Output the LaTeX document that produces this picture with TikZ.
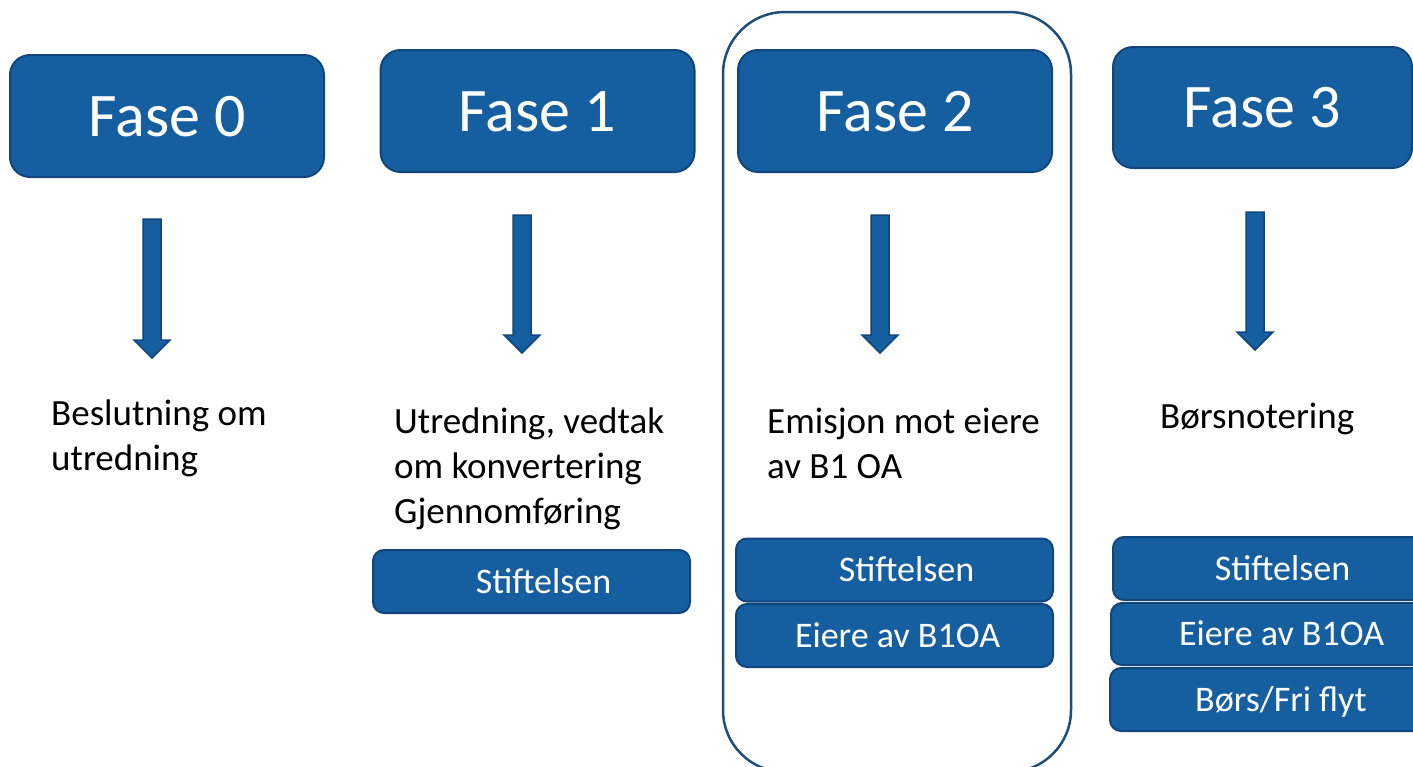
\documentclass[tikz,border=0pt]{standalone}
\usepackage{fontspec}
\setmainfont{Carlito}

\definecolor{faseblue}{RGB}{21,94,160}
\definecolor{faseedge}{RGB}{16,70,125}
\definecolor{ringblue}{RGB}{31,78,121}

\tikzset{
 fasebox/.style={draw=faseedge, line width=2pt, fill=faseblue, rounded corners=20pt,
   minimum width=314pt, minimum height=122pt, inner sep=0pt, text=white,
   font=\fontsize{62}{74}\selectfont, text height=40pt, text depth=0pt},
 smallbox/.style={draw=faseedge, line width=2pt, fill=faseblue, rounded corners=11pt,
   minimum width=317pt, minimum height=63pt, inner sep=0pt},
 boxtext/.style={text=white, font=\fontsize{36}{43}\selectfont, text height=23pt,
   text depth=0pt, inner sep=0pt},
 steptext/.style={font=\fontsize{37}{45}\selectfont, align=left, anchor=base west, inner sep=0pt},
 blockarrow/.style={draw=faseedge, line width=1.5pt, fill=faseblue, line join=miter},
}

% block arrow: x, top, tip
\newcommand{\phasearrow}[3]{%
 \draw[blockarrow] (#1-9,#2) -- (#1+9,#2) -- (#1+9,#3-18) -- (#1+18,#3-18)
   -- (#1,#3) -- (#1-18,#3-18) -- (#1-9,#3-18) -- cycle;}

\begin{document}
\begin{tikzpicture}[x=1pt,y=-1pt]
 \useasboundingbox (0,0) rectangle (1413,766);
 % frame round fase 2
 \draw[ringblue, line width=2.5pt, rounded corners=62pt] (723,12) rectangle (1071,772);

 % phases
 \node[fasebox] (fase0) at (167,116) {Fase 0};
 \node[fasebox] (fase1) at (537.5,111) {Fase 1};
 \node[fasebox] (fase2) at (895,111) {Fase 2};
 \node[fasebox, minimum width=299pt, minimum height=121pt] (fase3) at (1262.5,107.5) {Fase 3};

 \phasearrow{152}{219}{358}
 \phasearrow{522}{215}{353}
 \phasearrow{880}{215}{353}
 \phasearrow{1255}{212}{350}

 % what happens (base = last line)
 \node[steptext] (step0) at (51,470) {Beslutning om\\utredning};
 \node[steptext] (step1) at (394,523) {Utredning, vedtak\\om konvertering\\Gjennomføring};
 \node[steptext] (step2) at (767,478) {Emisjon mot eiere\\av B1 OA};
 \node[steptext] (step3) at (1160,428) {Børsnotering};

 % who
 \node[smallbox, label={[boxtext,xshift=12pt]center:Stiftelsen}] (stift1) at (531.5,581.5) {};
 \node[smallbox, label={[boxtext,xshift=12pt]center:Stiftelsen}] (stift2) at (894.5,570) {};
 \node[smallbox, label={[boxtext,xshift=3pt]center:Eiere av B1OA}] (eiere2) at (894.5,635.5) {};
 \node[smallbox, minimum width=339pt, label={[boxtext]center:Stiftelsen}] (stift3) at (1282.5,568.5) {};
 \node[smallbox, minimum width=341pt, minimum height=62pt, label={[boxtext]center:Eiere av B1OA}] (eiere3) at (1281.5,634) {};
 \node[smallbox, minimum width=342pt, label={[boxtext]center:Børs/Fri flyt}] (bors3) at (1281,699.5) {};
\end{tikzpicture}
\end{document}
